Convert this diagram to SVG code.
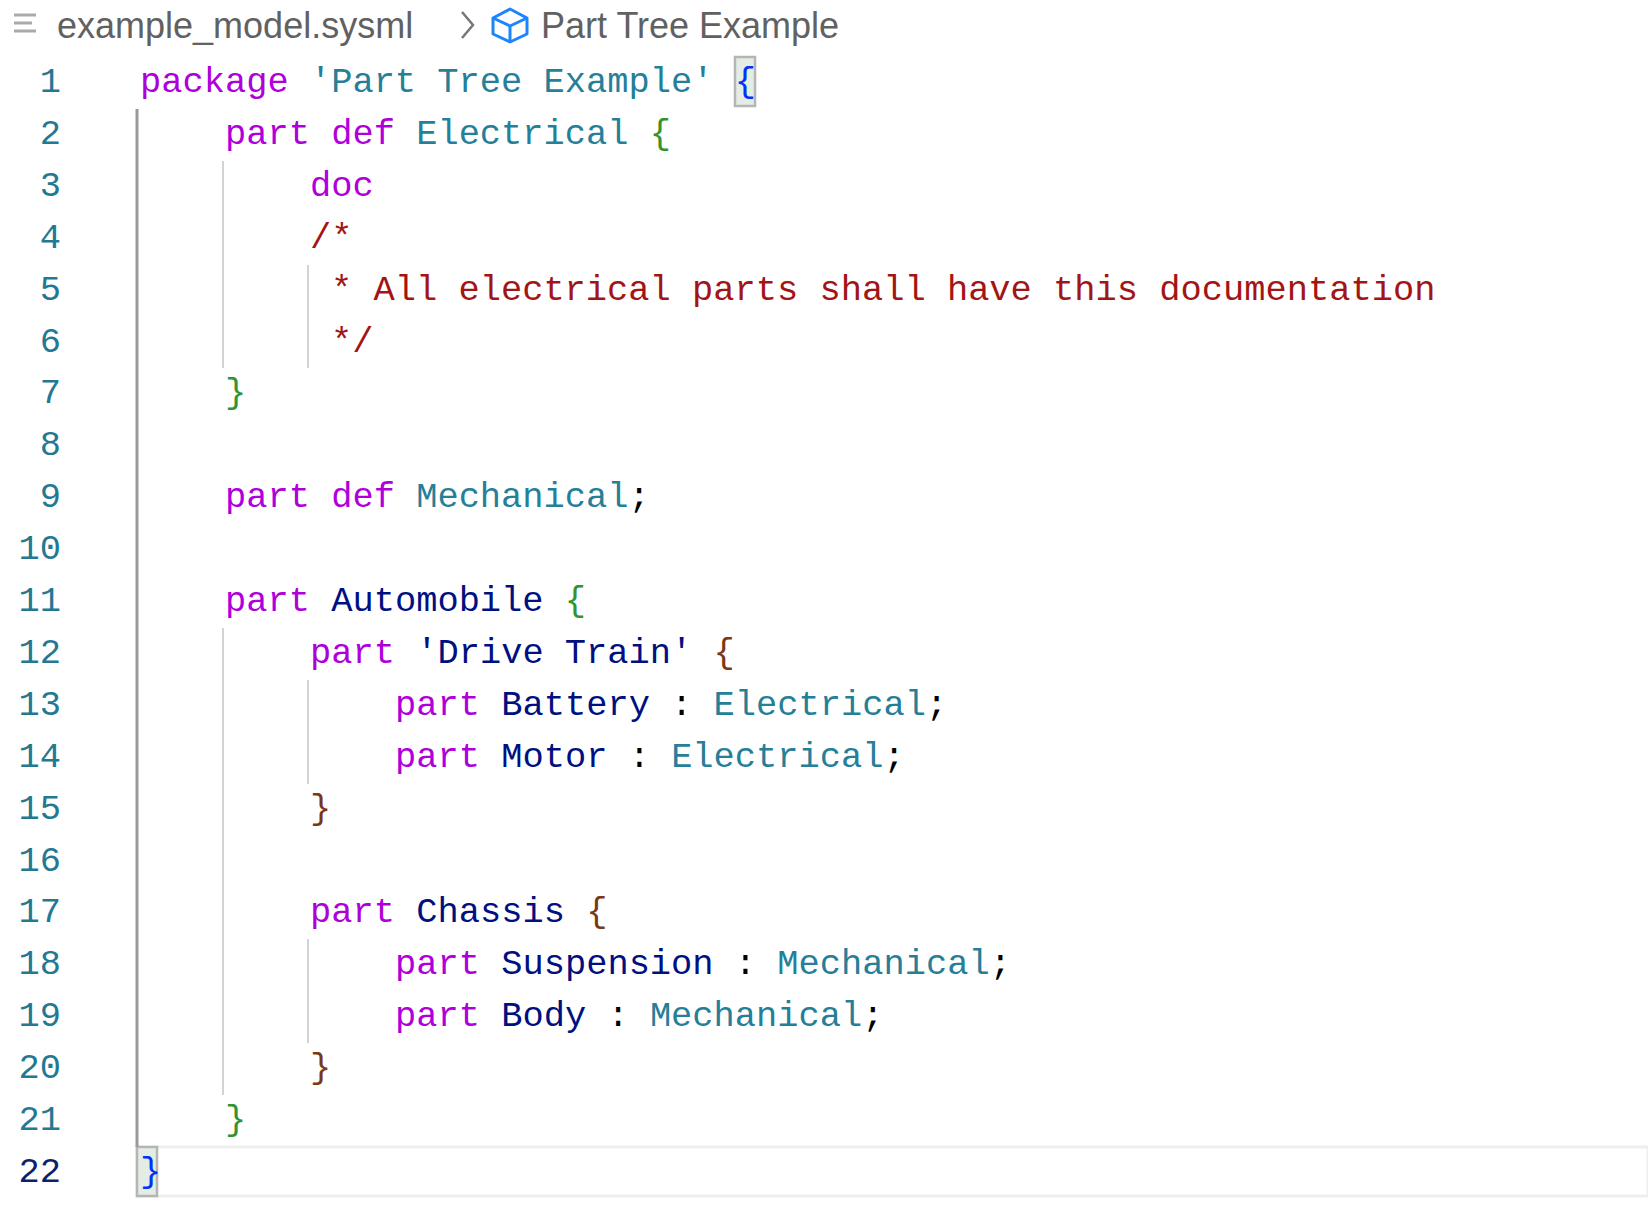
<svg xmlns="http://www.w3.org/2000/svg" width="1648" height="1208" viewBox="0 0 1648 1208">
<style>
.c{font-family:"Liberation Mono","DejaVu Sans Mono",monospace;font-size:35.4px;fill:#000}
.ln{font-family:"Liberation Mono","DejaVu Sans Mono",monospace;font-size:35.4px;fill:#237893;text-anchor:end}
.k{fill:#af00db}.t{fill:#267f99}.n{fill:#001080}.m{fill:#a31515}
.b1{fill:#0431fa}.b2{fill:#319331}.b3{fill:#7b3814}
.g{stroke:#d3d3d3;stroke-width:2}
.bc{font-family:"Liberation Sans",Arial,sans-serif;font-size:36px;fill:#616161}
</style>
<rect width="1648" height="1208" fill="#fff"/>
<g id="breadcrumb">
<g stroke="#aaa" stroke-width="3"><line x1="14" y1="15" x2="36" y2="15"/><line x1="14" y1="23" x2="32" y2="23"/><line x1="14" y1="31" x2="36" y2="31"/></g>
<text class="bc" x="57" y="38">example_model.sysml</text>
<polyline points="462,12 473,25 462,38" fill="none" stroke="#777" stroke-width="2.5"/>
<g fill="none" stroke="#1a85ff" stroke-width="3" stroke-linejoin="round"><polygon points="510,9 527,18 527,34 510,42 493,34 493,18"/><polyline points="493,18 510,26 527,18"/><line x1="510" y1="26" x2="510" y2="42"/></g>
<text class="bc" x="541" y="38">Part Tree Example</text>
</g>
<g id="currentline">
<rect x="137" y="1147" width="1511" height="49" fill="none" stroke="#eeeeee" stroke-width="3"/>
<rect x="137" y="1147" width="20" height="49" fill="#e4ede4" stroke="#b5b5b5" stroke-width="2.5"/>
<rect x="735" y="57" width="20" height="49" fill="#e4ede4" stroke="#b5b5b5" stroke-width="2.5"/>
</g>
<g id="guides">
<line x1="137" y1="109" x2="137" y2="1147" stroke="#999" stroke-width="3"/>
<line class="g" x1="223" y1="161" x2="223" y2="368"/>
<line class="g" x1="308" y1="265" x2="308" y2="368"/>
<line class="g" x1="223" y1="628" x2="223" y2="1095"/>
<line class="g" x1="308" y1="680" x2="308" y2="784"/>
<line class="g" x1="308" y1="939" x2="308" y2="1043"/>
</g>
<g id="linenumbers">
<text class="ln" x="61" y="92">1</text><text class="ln" x="61" y="143.9">2</text><text class="ln" x="61" y="195.8">3</text><text class="ln" x="61" y="247.7">4</text><text class="ln" x="61" y="299.6">5</text><text class="ln" x="61" y="351.5">6</text><text class="ln" x="61" y="403.4">7</text><text class="ln" x="61" y="455.3">8</text><text class="ln" x="61" y="507.2">9</text><text class="ln" x="61" y="559.1">10</text><text class="ln" x="61" y="611">11</text><text class="ln" x="61" y="662.9">12</text><text class="ln" x="61" y="714.8">13</text><text class="ln" x="61" y="766.7">14</text><text class="ln" x="61" y="818.6">15</text><text class="ln" x="61" y="870.5">16</text><text class="ln" x="61" y="922.4">17</text><text class="ln" x="61" y="974.3">18</text><text class="ln" x="61" y="1026.2">19</text><text class="ln" x="61" y="1078.1">20</text><text class="ln" x="61" y="1130">21</text><text class="ln" x="61" y="1181.9" style="fill:#0b216f">22</text>
</g>
<g id="code" xml:space="preserve">
<text class="c" x="140" y="92"><tspan class="k">package</tspan> <tspan class="t">'Part Tree Example'</tspan> <tspan class="b1">{</tspan></text>
<text class="c" x="225" y="143.9"><tspan class="k">part def</tspan> <tspan class="t">Electrical</tspan> <tspan class="b2">{</tspan></text>
<text class="c" x="310" y="195.8"><tspan class="k">doc</tspan></text>
<text class="c m" x="310" y="247.7">/*</text>
<text class="c m" x="331" y="299.6">* All electrical parts shall have this documentation</text>
<text class="c m" x="331" y="351.5">*/</text>
<text class="c b2" x="225" y="403.4">}</text>
<text class="c" x="225" y="507.2"><tspan class="k">part def</tspan> <tspan class="t">Mechanical</tspan>;</text>
<text class="c" x="225" y="611"><tspan class="k">part</tspan> <tspan class="n">Automobile</tspan> <tspan class="b2">{</tspan></text>
<text class="c" x="310" y="662.9"><tspan class="k">part</tspan> <tspan class="n">'Drive Train'</tspan> <tspan class="b3">{</tspan></text>
<text class="c" x="395" y="714.8"><tspan class="k">part</tspan> <tspan class="n">Battery</tspan> : <tspan class="t">Electrical</tspan>;</text>
<text class="c" x="395" y="766.7"><tspan class="k">part</tspan> <tspan class="n">Motor</tspan> : <tspan class="t">Electrical</tspan>;</text>
<text class="c b3" x="310" y="818.6">}</text>
<text class="c" x="310" y="922.4"><tspan class="k">part</tspan> <tspan class="n">Chassis</tspan> <tspan class="b3">{</tspan></text>
<text class="c" x="395" y="974.3"><tspan class="k">part</tspan> <tspan class="n">Suspension</tspan> : <tspan class="t">Mechanical</tspan>;</text>
<text class="c" x="395" y="1026.2"><tspan class="k">part</tspan> <tspan class="n">Body</tspan> : <tspan class="t">Mechanical</tspan>;</text>
<text class="c b3" x="310" y="1078.1">}</text>
<text class="c b2" x="225" y="1130">}</text>
<text class="c b1" x="140" y="1181.9">}</text>
</g>
</svg>
